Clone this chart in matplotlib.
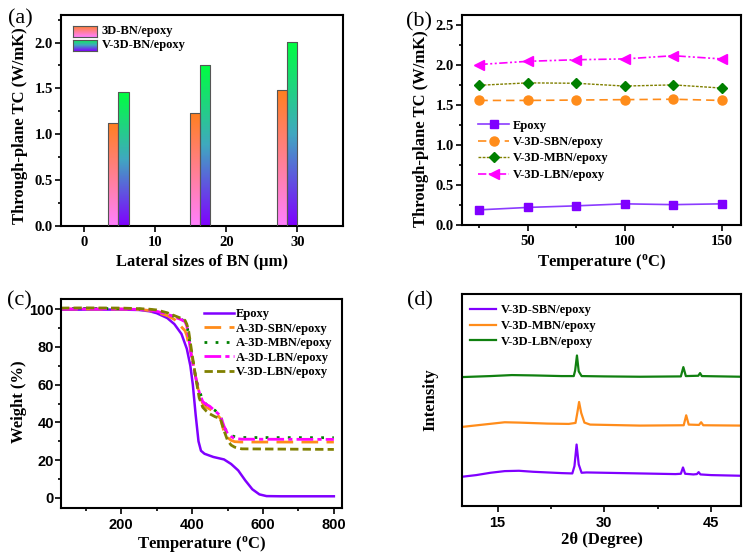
import numpy as np
import matplotlib
matplotlib.use('Agg')
from matplotlib import pyplot as plt
from matplotlib.colors import LinearSegmentedColormap
from matplotlib.ticker import MultipleLocator

SERIF = 'Liberation Serif'
SANS = 'Liberation Sans'
plt.rcParams['font.family'] = SERIF
plt.rcParams['font.weight'] = 'bold'
plt.rcParams['mathtext.default'] = 'regular'

# (a) through-plane TC vs lateral size
bn_size = [4.85, 16.3, 28.55]
tc_3d = [1.12, 1.23, 1.48]
tc_v3d = [1.46, 1.75, 2.01]

# (b) TC vs temperature
temp_b = [25, 50, 75, 100, 125, 150]
tc_epoxy = [0.19, 0.22, 0.24, 0.265, 0.255, 0.265]
tc_sbn = [1.56, 1.56, 1.565, 1.57, 1.575, 1.56]
tc_mbn = [1.75, 1.78, 1.775, 1.74, 1.755, 1.715]
tc_lbn = [2.01, 2.05, 2.07, 2.08, 2.12, 2.08]

# (c) TGA
t_epoxy = [30, 100, 200, 250, 280, 300, 330, 350, 370, 385, 395, 402, 410, 418, 425, 435,
           460, 490, 510, 530, 550, 570, 590, 610, 650, 800]
w_epoxy = [99.6, 99.7, 99.7, 99.5, 98.8, 97.8, 95.2, 92, 86.8, 79, 70, 60, 44, 30, 25, 23.4,
           21.7, 20.4, 18, 14.6, 9.3, 4.6, 1.9, 1.0, 0.9, 0.9]
t_tga = [30, 100, 200, 250, 280, 300, 330, 350, 370, 380, 385, 390, 400, 410, 420, 430,
         440, 450, 465, 480, 490, 500, 510, 520, 540, 800]
w_sbn = [100, 100, 100, 99.8, 99.2, 98.2, 96.5, 94.5, 90.5, 88.5, 86, 81.5, 74.5, 64, 55, 50,
         48, 47, 45.5, 42, 35, 32, 30.5, 29.8, 29.6, 29.6]
w_mbn = [100.3, 100.3, 100.2, 100, 99.6, 99, 97.5, 96, 94.5, 93.5, 91.5, 86.8, 74.5, 64, 57, 51.6,
         49.5, 48, 46.3, 43.5, 37.5, 34.5, 33, 32.5, 32, 31.9]
w_lbn = [100, 100, 100, 99.8, 99.4, 98.8, 97.3, 95.8, 94.3, 93.3, 91, 85, 72.7, 64, 56, 51,
         49.5, 48.5, 46, 43.5, 38, 34, 32.5, 31.5, 31.1, 31]
w_vlbn = [100.5, 100.6, 100.5, 100.2, 99.9, 99.5, 98, 96.5, 95, 94, 92, 88.6, 76, 64, 53, 48,
          46, 44.5, 43, 42, 35.7, 30.5, 28, 26.9, 26, 25.7]

# (d) XRD
xrd_s_x = [10, 12, 14, 16, 18, 20, 22, 24, 25.5, 25.8, 26.1, 26.4, 26.8, 27.5, 30, 35, 40,
           40.75, 41.05, 41.35, 42.5, 43.0, 43.25, 43.5, 45, 49.2]
xrd_s_y = [88, 93, 100, 105, 106, 103, 101, 99, 98, 120, 185, 125, 100, 101, 100, 98, 96,
           97, 116, 97, 95, 96, 102, 95, 93, 91]
xrd_m_x = [10, 13, 16, 18, 22, 25, 25.95, 26.2, 26.45, 26.75, 27.2, 28, 35, 41.15, 41.5, 41.85,
           43.3, 43.6, 43.9, 49.2]
xrd_m_y = [238, 245, 252, 251, 248, 247, 250, 280, 313, 280, 251, 245, 242, 243, 273, 245,
           244, 252, 243, 242]
xrd_l_x = [10, 14, 17, 20, 24, 25.7, 25.9, 26.15, 26.4, 26.8, 30, 35, 40.75, 41.1, 41.45,
           43.2, 43.45, 43.7, 49.2]
xrd_l_y = [388, 391, 394, 393, 391, 391, 408, 453, 405, 391, 390, 389, 390, 418, 391,
           392, 400, 391, 389]

fig = plt.figure(figsize=(7.52, 5.54), dpi=100)
W, H = 752, 554


def add_ax(l, t, r, b):
    return fig.add_axes([l / W, 1 - b / H, (r - l) / W, (b - t) / H])


def style(ax, tickfont=SERIF, ypad=2):
    for s in ax.spines.values():
        s.set_linewidth(1.5)
    ax.tick_params(which='both', direction='out', top=False, right=False, width=1.2)
    ax.tick_params(which='major', length=4, labelsize=10.5)
    ax.tick_params(which='minor', length=2.5)
    ax.tick_params(axis='y', pad=ypad)
    ax.tick_params(axis='x', pad=3)
    for lab in ax.get_xticklabels() + ax.get_yticklabels():
        lab.set_fontfamily(tickfont)
        lab.set_fontweight('bold')


lab_kw = dict(fontsize=12, fontweight='bold', family=SERIF)
leg_kw = dict(family=SERIF, weight='bold', size=9)

cm_or = LinearSegmentedColormap.from_list('or', ['#FF80FF', '#FF7F90', '#FF7F20'])
cm_gr = LinearSegmentedColormap.from_list('gr', ['#8000FF', '#40A8C0', '#00FF40'])
grad = np.linspace(0, 1, 256).reshape(-1, 1)

# ---- (a)
ax = add_ax(61, 15, 343, 226)
w = 1.45
for xs, vals, cm, off in [(bn_size, tc_3d, cm_or, -w / 2), (bn_size, tc_v3d, cm_gr, w / 2)]:
    bars = ax.bar(np.array(xs) + off, vals, w, facecolor='none', edgecolor='#555555',
                  lw=0.8, zorder=3)
    for b in bars:
        x0, h = b.get_x(), b.get_height()
        im = ax.imshow(grad, cmap=cm, origin='lower', aspect='auto', zorder=2,
                       extent=(x0, x0 + w, 0, h))
        im.set_clip_path(b)
ax.set_xlim(-3.2, 36.4)
ax.set_ylim(0, 2.3)
ax.xaxis.set_major_locator(MultipleLocator(10))
ax.yaxis.set_major_locator(MultipleLocator(0.5))
ax.yaxis.set_minor_locator(MultipleLocator(0.25))
ax.set_xlabel('Lateral sizes of BN (μm)', labelpad=4, **lab_kw)
ax.set_ylabel('Through-plane TC (W/mK)', **lab_kw)
ax.yaxis.set_label_coords(-0.117, 0.474)
style(ax)
for i, (cm, name) in enumerate([(cm_or, '3D-BN/epoxy'), (cm_gr, 'V-3D-BN/epoxy')]):
    y0 = 0.896 - i * 0.066
    iax = ax.inset_axes([0.043, y0, 0.085, 0.053])
    iax.imshow(grad, cmap=cm, origin='lower', aspect='auto')
    iax.set_xticks([])
    iax.set_yticks([])
    for s in iax.spines.values():
        s.set_color('#555555')
        s.set_linewidth(0.8)
    ax.text(0.145, y0 + 0.026, name, transform=ax.transAxes, va='center', **leg_kw)

# ---- (b)
ax = add_ax(462, 15, 741, 225)
ax.plot(temp_b, tc_epoxy, '-s', color='#8B3CFF', mfc='#8000FF', mec='#8000FF', ms=6, lw=1.2,
        label='Epoxy')
ax.plot(temp_b, tc_sbn, '--o', color='#FF8C1A', ms=6.5, lw=1.2, dashes=(5, 3),
        label='V-3D-SBN/epoxy')
ax.plot(temp_b, tc_mbn, ':D', color='#808000', mfc='#008000', mec='#008000', ms=5.5, lw=1.0,
        dashes=(2, 1), label='V-3D-MBN/epoxy')
ax.plot(temp_b, tc_lbn, marker='<', color='#FF00FF', ms=6.5, lw=1.2,
        dashes=(5, 1.5, 1.2, 1.5, 1.2, 1.5), label='V-3D-LBN/epoxy')
ax.set_xlim(16, 160)
ax.set_ylim(0, 2.63)
ax.xaxis.set_major_locator(MultipleLocator(50))
ax.xaxis.set_minor_locator(MultipleLocator(25))
ax.yaxis.set_major_locator(MultipleLocator(0.5))
ax.yaxis.set_minor_locator(MultipleLocator(0.25))
ax.set_xlabel('Temperature ($^{o}$C)', labelpad=3, **lab_kw)
ax.set_ylabel('Through-plane TC (W/mK)', **lab_kw)
ax.yaxis.set_label_coords(-0.118, 0.46)
style(ax)
ax.legend(loc='upper left', bbox_to_anchor=(0.04, 0.525), frameon=False, prop=leg_kw,
          handlelength=2.5, handletextpad=0.3, labelspacing=0.35, borderaxespad=0)

# ---- (c)
ax = add_ax(61, 299, 342, 508)
ax.plot(t_epoxy, w_epoxy, color='#8000FF', lw=1.8, label='Epoxy')
ax.plot(t_tga, w_sbn, color='#FF8C1A', lw=2, dashes=(6, 3), label='A-3D-SBN/epoxy')
ax.plot(t_tga, w_mbn, color='#008000', lw=2, dashes=(1, 3), label='A-3D-MBN/epoxy')
ax.plot(t_tga, w_lbn, color='#FF00FF', lw=2, dashes=(6, 1.5, 1.5, 1.5), label='A-3D-LBN/epoxy')
ax.plot(t_tga, w_vlbn, color='#808000', lw=2, dashes=(3, 1.5), label='V-3D-LBN/epoxy')
ax.set_xlim(30, 823)
ax.set_ylim(-5.3, 105.3)
ax.xaxis.set_major_locator(MultipleLocator(200))
ax.xaxis.set_minor_locator(MultipleLocator(100))
ax.yaxis.set_major_locator(MultipleLocator(20))
ax.yaxis.set_minor_locator(MultipleLocator(10))
ax.set_xlabel('Temperature ($^{o}$C)', labelpad=2, **lab_kw)
ax.set_ylabel('Weight (%)', **lab_kw)
ax.yaxis.set_label_coords(-0.121, 0.507)
style(ax, SANS, ypad=1)
ax.legend(loc='upper right', bbox_to_anchor=(0.985, 0.98), frameon=False, prop=leg_kw,
          handlelength=2.4, handletextpad=0.15, labelspacing=0.2, borderaxespad=0)

# ---- (d)
ax = add_ax(462, 294, 741, 506)
ax.plot(xrd_s_x, xrd_s_y, color='#8000FF', lw=1.6, label='V-3D-SBN/epoxy')
ax.plot(xrd_m_x, xrd_m_y, color='#FF8C1A', lw=1.6, label='V-3D-MBN/epoxy')
ax.plot(xrd_l_x, xrd_l_y, color='#108010', lw=1.6, label='V-3D-LBN/epoxy')
ax.set_xlim(10, 49.2)
ax.set_ylim(0, 638)
ax.xaxis.set_major_locator(MultipleLocator(15))
ax.xaxis.set_minor_locator(MultipleLocator(7.5))
ax.set_yticks([])
ax.set_xlabel('2θ (Degree)', labelpad=2, **lab_kw)
ax.set_ylabel('Intensity', **lab_kw)
ax.yaxis.set_label_coords(-0.083, 0.5)
style(ax, SANS)
ax.legend(loc='upper left', bbox_to_anchor=(0.01, 0.975), frameon=False, prop=leg_kw,
          handlelength=2.1, handletextpad=0.4, labelspacing=0.3, borderaxespad=0)

for txt, x, y in [('(a)', 8, 9), ('(b)', 406, 12), ('(c)', 7, 291), ('(d)', 407, 291)]:
    fig.text(x / W, 1 - y / H, txt, fontsize=16, fontweight='normal', family=SERIF, va='top')

fig.savefig('out.png', dpi=100)
